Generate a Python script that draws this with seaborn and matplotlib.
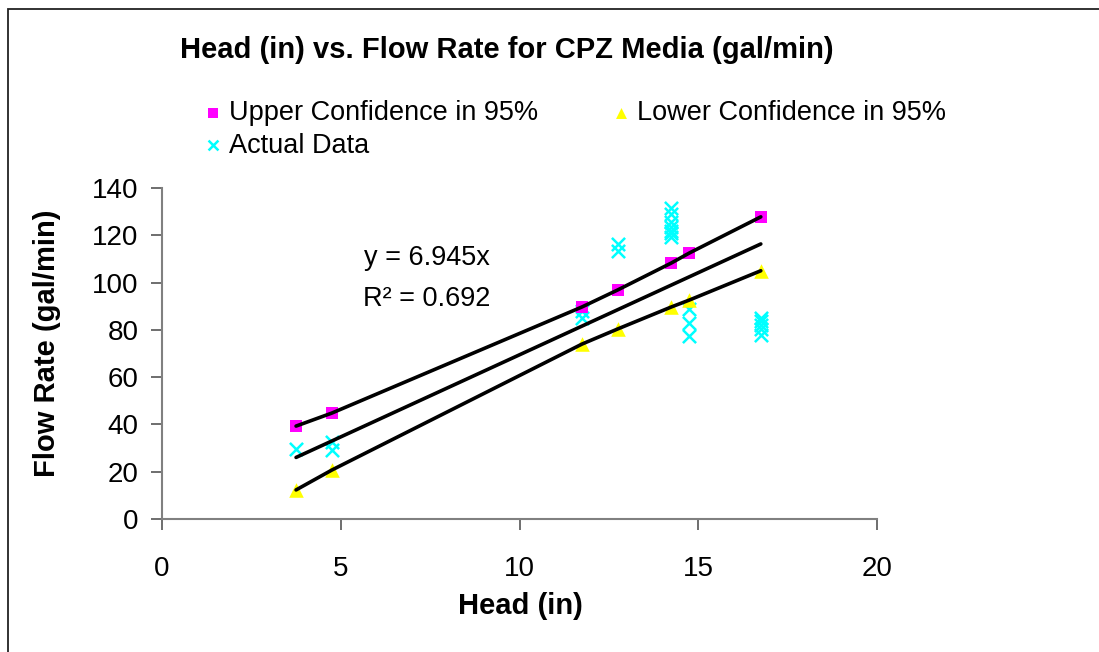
import numpy as np
import pandas as pd
import matplotlib
matplotlib.use('Agg')
import matplotlib.pyplot as plt
import seaborn as sns
from matplotlib.patches import Rectangle

# values
head_bands = [3.75, 4.75, 11.75, 12.75, 14.25, 14.75, 16.75]
upper_95 = [39.3, 44.8, 89.7, 96.9, 108.3, 112.5, 127.8]
lower_95 = [12.3, 20.7, 74.0, 80.4, 89.7, 92.6, 105.0]

actual_head = [3.75, 4.75, 4.75, 11.75, 11.75, 12.75, 12.75,
               14.25, 14.25, 14.25, 14.25, 14.25, 14.25, 14.25,
               14.75, 14.75, 14.75,
               16.75, 16.75, 16.75, 16.75, 16.75]
actual_flow = [29.6, 29.3, 32.6, 85.0, 88.0, 113.2, 116.2,
               131.5, 129.0, 125.5, 123.5, 122.0, 120.8, 119.2,
               89.0, 83.0, 77.5,
               85.2, 83.6, 82.0, 80.5, 78.0]

slope = 6.945
r2 = 0.692

bands = pd.DataFrame({'head': head_bands, 'upper': upper_95, 'lower': lower_95})
actual = pd.DataFrame({'head': actual_head, 'flow': actual_flow})

sns.set_style('white')
plt.rcParams['font.family'] = ['Liberation Sans', 'DejaVu Sans']
plt.rcParams['text.color'] = 'black'
plt.rcParams['xtick.labelcolor'] = 'black'
plt.rcParams['ytick.labelcolor'] = 'black'

fig = plt.figure(figsize=(10.99, 6.52), dpi=100)
ax = fig.add_axes([162 / 1099, 1 - 519 / 652, 715 / 1099, 331 / 652])

sns.scatterplot(data=actual, x='head', y='flow', ax=ax, marker='x', color='#00FFFF',
                s=90, linewidth=1.8, label='Actual Data', zorder=2)
sns.scatterplot(data=bands, x='head', y='upper', ax=ax, marker='s', color='#FF00FF',
                s=80, linewidth=0, label='Upper Confidence in 95%', zorder=3)
sns.scatterplot(data=bands, x='head', y='lower', ax=ax, marker='^', color='#FFFF00',
                s=110, linewidth=0, label='Lower Confidence in 95%', zorder=3)

# band curves and fitted line on top of markers
ax.plot(bands['head'], bands['upper'], color='black', lw=2.6, zorder=4)
ax.plot(bands['head'], bands['lower'], color='black', lw=2.6, zorder=4)
xfit = np.array([min(actual_head), max(actual_head)])
ax.plot(xfit, slope * xfit, color='black', lw=2.6, zorder=4)

ax.text(7.4, 110.5, f'y = {slope}x', fontsize=19.5, ha='center', va='center')
ax.text(7.4, 93.0, f'R² = {r2}', fontsize=19.5, ha='center', va='center')

ax.set_xlim(0, 20)
ax.set_ylim(0, 140)
ax.set_xticks(range(0, 21, 5))
ax.set_yticks(range(0, 141, 20))
ax.set_xlabel('')
ax.set_ylabel('')
ax.tick_params(axis='both', labelsize=20, direction='out', length=8, width=1.2,
               color='#555555', bottom=True, left=True)
ax.tick_params(axis='x', pad=19)
ax.tick_params(axis='y', pad=9)
sns.despine(ax=ax)
for side in ['left', 'bottom']:
    ax.spines[side].set_color('#808080')
    ax.spines[side].set_linewidth(1.5)

handles, labels = ax.get_legend_handles_labels()
ax.get_legend().remove()
order = [1, 0, 2]
fig.legend([handles[i] for i in order], [labels[i] for i in order],
           loc='upper left', bbox_to_anchor=(194 / 1099, 1 - 89 / 652), ncol=2,
           frameon=False, fontsize=19.5, markerscale=0.75, handlelength=0.6,
           handletextpad=0.3, columnspacing=2.75, labelspacing=0.25, borderaxespad=0)

fig.text(507 / 1099, 1 - 50 / 652, 'Head (in) vs. Flow Rate for CPZ Media (gal/min)',
         fontsize=21, fontweight='bold', ha='center', va='center')
fig.text(520 / 1099, 1 - 606 / 652, 'Head (in)', fontsize=21, fontweight='bold',
         ha='center', va='center')
fig.text(47 / 1099, 1 - 343 / 652, 'Flow Rate (gal/min)', fontsize=21,
         fontweight='bold', ha='center', va='center', rotation=90)

fig.add_artist(Rectangle((8 / 1099, -0.1), 1.2, 1.1 - 9 / 652, transform=fig.transFigure,
                         fill=False, edgecolor='#222222', lw=1.3))

fig.savefig('out.png', dpi=100)
